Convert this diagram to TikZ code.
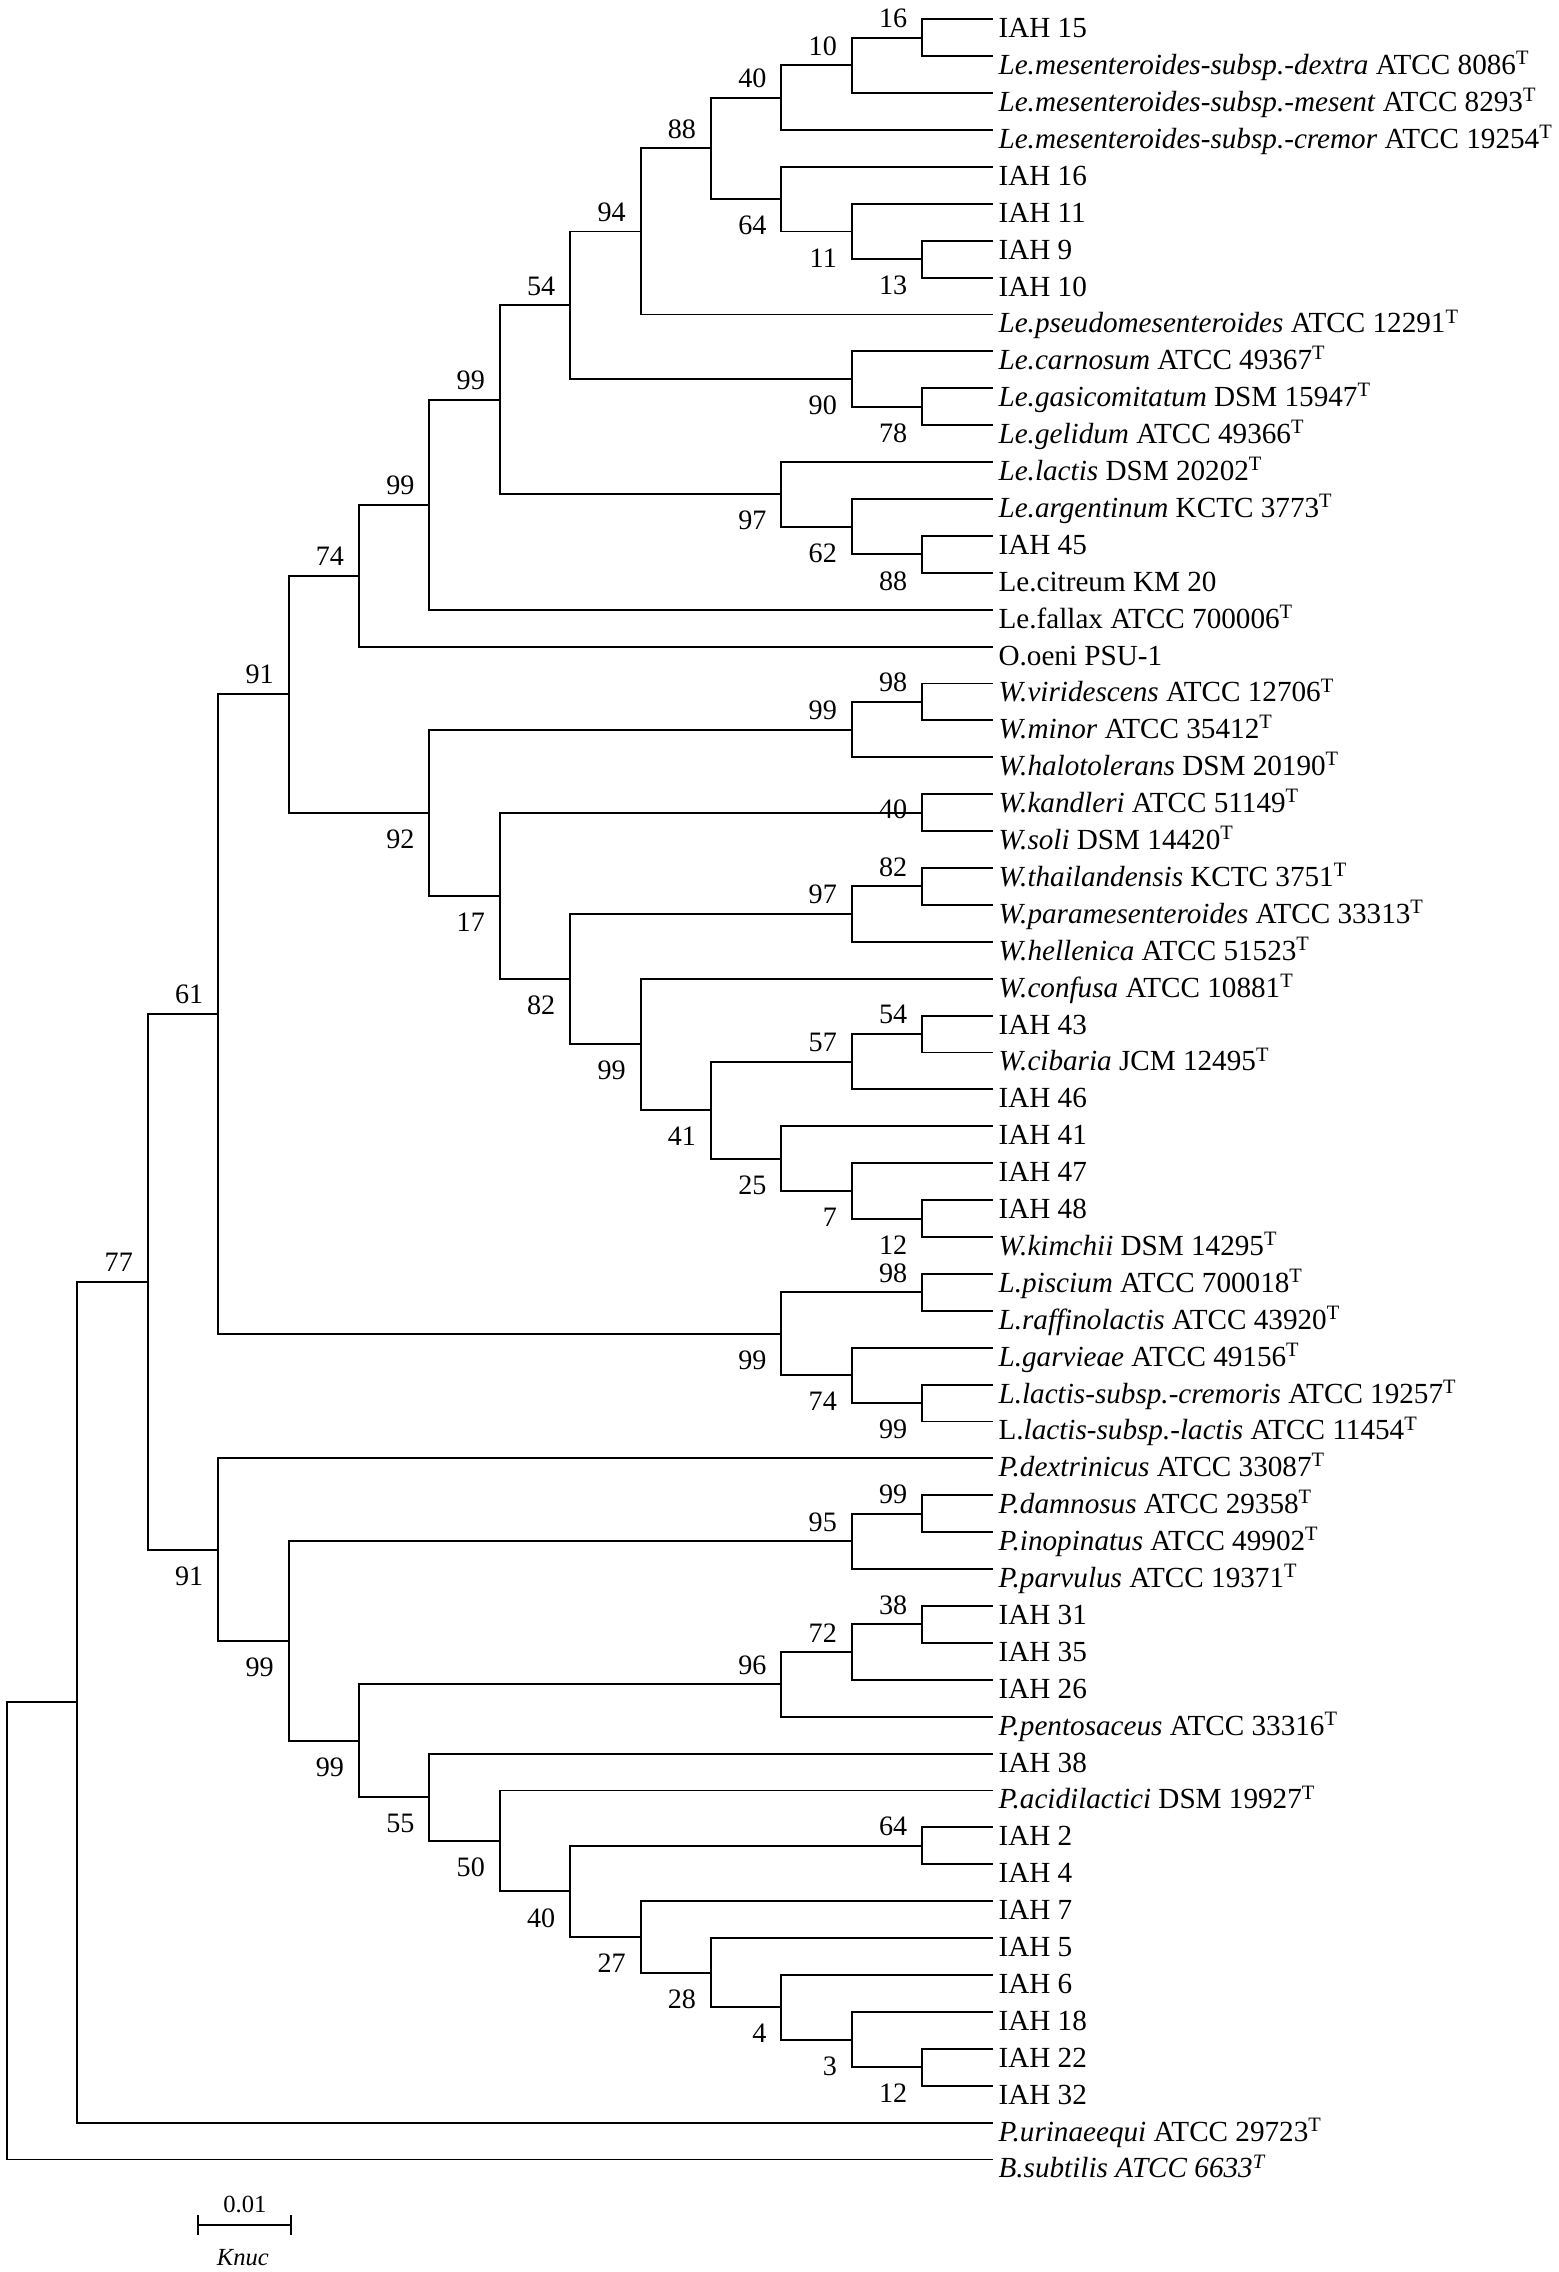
\documentclass[tikz,border=0pt]{standalone}
\usepackage{fontspec}
\setmainfont{Liberation Serif}
\usepackage{tikz}

\begin{document}
\begin{tikzpicture}[x=0.704cm,y=-0.369cm,line width=0.55pt,font=\fontsize{8pt}{9.6pt}\selectfont,
	leaf/.style={anchor=west,inner xsep=0.06cm,inner ysep=0pt,outer sep=0pt,font=\fontsize{8.3pt}{10pt}\selectfont,text height=1.05em,text depth=0pt},
	bsup/.style={anchor=south east,inner sep=0pt,xshift=-0.14cm,yshift=0.09cm},
	bsdown/.style={anchor=north east,inner sep=0pt,xshift=-0.14cm,yshift=-0.16cm},
	bsline/.style={anchor=south east,inner sep=0pt,xshift=-0.14cm,yshift=-0.07cm},
	scaletext/.style={inner sep=0pt,font=\fontsize{7pt}{8pt}\selectfont}]
	\useasboundingbox (-0.0994,0.477) rectangle (22.045,62.05);

	\node[leaf] (l1) at (14,1) {IAH 15};
	\node[leaf] (l2) at (14,2) {\textit{Le.mesenteroides-subsp.-dextra} ATCC 8086\textsuperscript{T}};
	\node[leaf] (l3) at (14,3) {\textit{Le.mesenteroides-subsp.-mesent} ATCC 8293\textsuperscript{T}};
	\node[leaf] (l4) at (14,4) {\textit{Le.mesenteroides-subsp.-cremor} ATCC 19254\textsuperscript{T}};
	\node[leaf] (l5) at (14,5) {IAH 16};
	\node[leaf] (l6) at (14,6) {IAH 11};
	\node[leaf] (l7) at (14,7) {IAH 9};
	\node[leaf] (l8) at (14,8) {IAH 10};
	\node[leaf] (l9) at (14,9) {\textit{Le.pseudomesenteroides} ATCC 12291\textsuperscript{T}};
	\node[leaf] (l10) at (14,10) {\textit{Le.carnosum} ATCC 49367\textsuperscript{T}};
	\node[leaf] (l11) at (14,11) {\textit{Le.gasicomitatum} DSM 15947\textsuperscript{T}};
	\node[leaf] (l12) at (14,12) {\textit{Le.gelidum} ATCC 49366\textsuperscript{T}};
	\node[leaf] (l13) at (14,13) {\textit{Le.lactis} DSM 20202\textsuperscript{T}};
	\node[leaf] (l14) at (14,14) {\textit{Le.argentinum} KCTC 3773\textsuperscript{T}};
	\node[leaf] (l15) at (14,15) {IAH 45};
	\node[leaf] (l16) at (14,16) {Le.citreum KM 20};
	\node[leaf] (l17) at (14,17) {Le.fallax ATCC 700006\textsuperscript{T}};
	\node[leaf] (l18) at (14,18) {O.oeni PSU-1};
	\node[leaf] (l19) at (14,19) {\textit{W.viridescens} ATCC 12706\textsuperscript{T}};
	\node[leaf] (l20) at (14,20) {\textit{W.minor} ATCC 35412\textsuperscript{T}};
	\node[leaf] (l21) at (14,21) {\textit{W.halotolerans} DSM 20190\textsuperscript{T}};
	\node[leaf] (l22) at (14,22) {\textit{W.kandleri} ATCC 51149\textsuperscript{T}};
	\node[leaf] (l23) at (14,23) {\textit{W.soli} DSM 14420\textsuperscript{T}};
	\node[leaf] (l24) at (14,24) {\textit{W.thailandensis} KCTC 3751\textsuperscript{T}};
	\node[leaf] (l25) at (14,25) {\textit{W.paramesenteroides} ATCC 33313\textsuperscript{T}};
	\node[leaf] (l26) at (14,26) {\textit{W.hellenica} ATCC 51523\textsuperscript{T}};
	\node[leaf] (l27) at (14,27) {\textit{W.confusa} ATCC 10881\textsuperscript{T}};
	\node[leaf] (l28) at (14,28) {IAH 43};
	\node[leaf] (l29) at (14,29) {\textit{W.cibaria} JCM 12495\textsuperscript{T}};
	\node[leaf] (l30) at (14,30) {IAH 46};
	\node[leaf] (l31) at (14,31) {IAH 41};
	\node[leaf] (l32) at (14,32) {IAH 47};
	\node[leaf] (l33) at (14,33) {IAH 48};
	\node[leaf] (l34) at (14,34) {\textit{W.kimchii} DSM 14295\textsuperscript{T}};
	\node[leaf] (l35) at (14,35) {\textit{L.piscium} ATCC 700018\textsuperscript{T}};
	\node[leaf] (l36) at (14,36) {\textit{L.raffinolactis} ATCC 43920\textsuperscript{T}};
	\node[leaf] (l37) at (14,37) {\textit{L.garvieae} ATCC 49156\textsuperscript{T}};
	\node[leaf] (l38) at (14,38) {\textit{L.lactis-subsp.-cremoris} ATCC 19257\textsuperscript{T}};
	\node[leaf] (l39) at (14,39) {L.\textit{lactis-subsp.-lactis} ATCC 11454\textsuperscript{T}};
	\node[leaf] (l40) at (14,40) {\textit{P.dextrinicus} ATCC 33087\textsuperscript{T}};
	\node[leaf] (l41) at (14,41) {\textit{P.damnosus} ATCC 29358\textsuperscript{T}};
	\node[leaf] (l42) at (14,42) {\textit{P.inopinatus} ATCC 49902\textsuperscript{T}};
	\node[leaf] (l43) at (14,43) {\textit{P.parvulus} ATCC 19371\textsuperscript{T}};
	\node[leaf] (l44) at (14,44) {IAH 31};
	\node[leaf] (l45) at (14,45) {IAH 35};
	\node[leaf] (l46) at (14,46) {IAH 26};
	\node[leaf] (l47) at (14,47) {\textit{P.pentosaceus} ATCC 33316\textsuperscript{T}};
	\node[leaf] (l48) at (14,48) {IAH 38};
	\node[leaf] (l49) at (14,49) {\textit{P.acidilactici} DSM 19927\textsuperscript{T}};
	\node[leaf] (l50) at (14,50) {IAH 2};
	\node[leaf] (l51) at (14,51) {IAH 4};
	\node[leaf] (l52) at (14,52) {IAH 7};
	\node[leaf] (l53) at (14,53) {IAH 5};
	\node[leaf] (l54) at (14,54) {IAH 6};
	\node[leaf] (l55) at (14,55) {IAH 18};
	\node[leaf] (l56) at (14,56) {IAH 22};
	\node[leaf] (l57) at (14,57) {IAH 32};
	\node[leaf] (l58) at (14,58) {\textit{P.urinaeequi} ATCC 29723\textsuperscript{T}};
	\node[leaf] (l59) at (14,59) {\textit{B.subtilis ATCC 6633\textsuperscript{T}}};

	\coordinate (n16) at (13,1.5);
	\coordinate (n10) at (12,2.25);
	\coordinate (n40) at (11,3.125);
	\coordinate (n13) at (13,7.5);
	\coordinate (n11) at (12,6.75);
	\coordinate (n64) at (11,5.875);
	\coordinate (n88) at (10,4.5);
	\coordinate (n94) at (9,6.75);
	\coordinate (n78) at (13,11.5);
	\coordinate (n90) at (12,10.75);
	\coordinate (n54) at (8,8.75);
	\coordinate (n88b) at (13,15.5);
	\coordinate (n62) at (12,14.75);
	\coordinate (n97) at (11,13.875);
	\coordinate (n99a) at (7,11.313);
	\coordinate (n99b) at (6,14.156);
	\coordinate (n74) at (5,16.078);
	\coordinate (n98) at (13,19.5);
	\coordinate (n99c) at (12,20.25);
	\coordinate (n40b) at (13,22.5);
	\coordinate (n82b) at (13,24.5);
	\coordinate (n97b) at (12,25.25);
	\coordinate (n54b) at (13,28.5);
	\coordinate (n57) at (12,29.25);
	\coordinate (n12a) at (13,33.5);
	\coordinate (n7) at (12,32.75);
	\coordinate (n25) at (11,31.875);
	\coordinate (n41) at (10,30.563);
	\coordinate (n99d) at (9,28.781);
	\coordinate (n82) at (8,27.016);
	\coordinate (n17) at (7,24.758);
	\coordinate (n92) at (6,22.504);
	\coordinate (n91a) at (4,19.291);
	\coordinate (n98b) at (13,35.5);
	\coordinate (n99e) at (13,38.5);
	\coordinate (n74b) at (12,37.75);
	\coordinate (n99f) at (11,36.625);
	\coordinate (n61) at (3,27.958);
	\coordinate (n99g) at (13,41.5);
	\coordinate (n95) at (12,42.25);
	\coordinate (n38) at (13,44.5);
	\coordinate (n72) at (12,45.25);
	\coordinate (n96) at (11,46.125);
	\coordinate (n64b) at (13,50.5);
	\coordinate (n12b) at (13,56.5);
	\coordinate (n3) at (12,55.75);
	\coordinate (n4) at (11,54.875);
	\coordinate (n28) at (10,53.938);
	\coordinate (n27) at (9,52.969);
	\coordinate (n40c) at (8,51.734);
	\coordinate (n50) at (7,50.367);
	\coordinate (n55) at (6,49.184);
	\coordinate (n99h) at (5,47.654);
	\coordinate (n99i) at (4,44.952);
	\coordinate (n91b) at (3,42.476);
	\coordinate (n77) at (2,35.217);
	\coordinate (n1) at (1,46.609);
	\coordinate (root) at (0,52.804);

	\draw (l1.west) -| (n16) |- (l2.west);
	\draw (n16) -| (n10) |- (l3.west);
	\draw (n10) -| (n40) |- (l4.west);
	\draw (l7.west) -| (n13) |- (l8.west);
	\draw (l6.west) -| (n11) |- (n13);
	\draw (l5.west) -| (n64) |- (n11);
	\draw (n40) -| (n88) |- (n64);
	\draw (n88) -| (n94) |- (l9.west);
	\draw (l11.west) -| (n78) |- (l12.west);
	\draw (l10.west) -| (n90) |- (n78);
	\draw (n94) -| (n54) |- (n90);
	\draw (l15.west) -| (n88b) |- (l16.west);
	\draw (l14.west) -| (n62) |- (n88b);
	\draw (l13.west) -| (n97) |- (n62);
	\draw (n54) -| (n99a) |- (n97);
	\draw (n99a) -| (n99b) |- (l17.west);
	\draw (n99b) -| (n74) |- (l18.west);
	\draw (l19.west) -| (n98) |- (l20.west);
	\draw (n98) -| (n99c) |- (l21.west);
	\draw (l22.west) -| (n40b) |- (l23.west);
	\draw (l24.west) -| (n82b) |- (l25.west);
	\draw (n82b) -| (n97b) |- (l26.west);
	\draw (l28.west) -| (n54b) |- (l29.west);
	\draw (n54b) -| (n57) |- (l30.west);
	\draw (l33.west) -| (n12a) |- (l34.west);
	\draw (l32.west) -| (n7) |- (n12a);
	\draw (l31.west) -| (n25) |- (n7);
	\draw (n57) -| (n41) |- (n25);
	\draw (l27.west) -| (n99d) |- (n41);
	\draw (n97b) -| (n82) |- (n99d);
	\draw (n40b) -| (n17) |- (n82);
	\draw (n99c) -| (n92) |- (n17);
	\draw (n74) -| (n91a) |- (n92);
	\draw (l35.west) -| (n98b) |- (l36.west);
	\draw (l38.west) -| (n99e) |- (l39.west);
	\draw (l37.west) -| (n74b) |- (n99e);
	\draw (n98b) -| (n99f) |- (n74b);
	\draw (n91a) -| (n61) |- (n99f);
	\draw (l41.west) -| (n99g) |- (l42.west);
	\draw (n99g) -| (n95) |- (l43.west);
	\draw (l44.west) -| (n38) |- (l45.west);
	\draw (n38) -| (n72) |- (l46.west);
	\draw (n72) -| (n96) |- (l47.west);
	\draw (l50.west) -| (n64b) |- (l51.west);
	\draw (l56.west) -| (n12b) |- (l57.west);
	\draw (l55.west) -| (n3) |- (n12b);
	\draw (l54.west) -| (n4) |- (n3);
	\draw (l53.west) -| (n28) |- (n4);
	\draw (l52.west) -| (n27) |- (n28);
	\draw (n64b) -| (n40c) |- (n27);
	\draw (l49.west) -| (n50) |- (n40c);
	\draw (l48.west) -| (n55) |- (n50);
	\draw (n96) -| (n99h) |- (n55);
	\draw (n95) -| (n99i) |- (n99h);
	\draw (l40.west) -| (n91b) |- (n99i);
	\draw (n61) -| (n77) |- (n91b);
	\draw (n77) -| (n1) |- (l58.west);
	\draw (n1) -| (root) |- (l59.west);

	\node[bsup] (b16) at (n16) {16};
	\node[bsup] (b10) at (n10) {10};
	\node[bsup] (b40) at (n40) {40};
	\node[bsdown] (b13) at (n13) {13};
	\node[bsdown] (b11) at (n11) {11};
	\node[bsdown] (b64) at (n64) {64};
	\node[bsup] (b88) at (n88) {88};
	\node[bsup] (b94) at (n94) {94};
	\node[bsdown] (b78) at (n78) {78};
	\node[bsdown] (b90) at (n90) {90};
	\node[bsup] (b54) at (n54) {54};
	\node[bsdown] (b88b) at (n88b) {88};
	\node[bsdown] (b62) at (n62) {62};
	\node[bsdown] (b97) at (n97) {97};
	\node[bsup] (b99a) at (n99a) {99};
	\node[bsup] (b99b) at (n99b) {99};
	\node[bsup] (b74) at (n74) {74};
	\node[bsup] (b98) at (n98) {98};
	\node[bsup] (b99c) at (n99c) {99};
	\node[bsline] (b40b) at (n40b) {40};
	\node[bsup] (b82b) at (n82b) {82};
	\node[bsup] (b97b) at (n97b) {97};
	\node[bsup] (b54b) at (n54b) {54};
	\node[bsup] (b57) at (n57) {57};
	\node[bsdown] (b12a) at (n12a) {12};
	\node[bsdown] (b7) at (n7) {7};
	\node[bsdown] (b25) at (n25) {25};
	\node[bsdown] (b41) at (n41) {41};
	\node[bsdown] (b99d) at (n99d) {99};
	\node[bsdown] (b82) at (n82) {82};
	\node[bsdown] (b17) at (n17) {17};
	\node[bsdown] (b92) at (n92) {92};
	\node[bsup] (b91a) at (n91a) {91};
	\node[bsup] (b98b) at (n98b) {98};
	\node[bsdown] (b99e) at (n99e) {99};
	\node[bsdown] (b74b) at (n74b) {74};
	\node[bsdown] (b99f) at (n99f) {99};
	\node[bsup] (b61) at (n61) {61};
	\node[bsup] (b99g) at (n99g) {99};
	\node[bsup] (b95) at (n95) {95};
	\node[bsup] (b38) at (n38) {38};
	\node[bsup] (b72) at (n72) {72};
	\node[bsup] (b96) at (n96) {96};
	\node[bsup] (b64b) at (n64b) {64};
	\node[bsdown] (b12b) at (n12b) {12};
	\node[bsdown] (b3) at (n3) {3};
	\node[bsdown] (b4) at (n4) {4};
	\node[bsdown] (b28) at (n28) {28};
	\node[bsdown] (b27) at (n27) {27};
	\node[bsdown] (b40c) at (n40c) {40};
	\node[bsdown] (b50) at (n50) {50};
	\node[bsdown] (b55) at (n55) {55};
	\node[bsdown] (b99h) at (n99h) {99};
	\node[bsdown] (b99i) at (n99i) {99};
	\node[bsdown] (b91b) at (n91b) {91};
	\node[bsup] (b77) at (n77) {77};

	\coordinate (sbl) at (2.713,60.78);
	\coordinate (sbr) at (4.034,60.78);
	\draw (sbl) -- (sbr);
	\draw ([yshift=0.1cm]sbl) -- ([yshift=-0.1cm]sbl);
	\draw ([yshift=0.1cm]sbr) -- ([yshift=-0.1cm]sbr);
	\node[scaletext] (sbval) at (3.38,60.23) {0.01};
	\node[scaletext] (sbunit) at (3.35,61.67) {\textit{Knuc}};
\end{tikzpicture}
\end{document}
